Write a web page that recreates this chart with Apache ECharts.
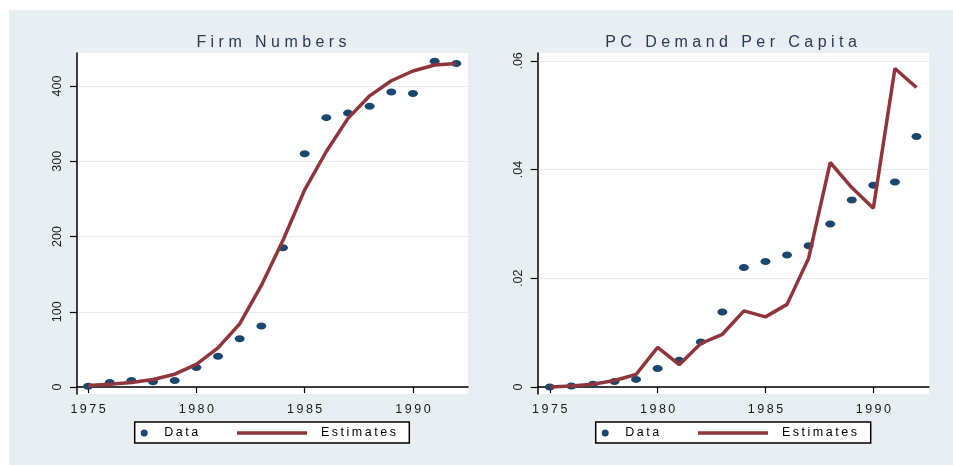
<!DOCTYPE html>
<html>
<head>
<meta charset="utf-8">
<script src="https://cdn.jsdelivr.net/npm/echarts@6/dist/echarts.min.js"></script>
<style>
html,body{margin:0;padding:0;background:#fff;}
#chart{width:953px;height:465px;}
</style>
</head>
<body>
<div id="chart"></div>
<script>
// ---- data ----
const years = [1975,1976,1977,1978,1979,1980,1981,1982,1983,1984,1985,1986,1987,1988,1989,1990,1991,1992];
const firmData = [1, 6, 8.5, 7, 8.5, 26, 41, 64, 81, 185, 310, 358, 364, 373, 392, 390, 433, 430];
const firmEst  = [2, 3.6, 6, 10, 17, 30, 52, 84, 135, 195, 262, 313, 357, 387, 407, 420, 428, 430];
const pcData = [0, 0.0002, 0.0005, 0.001, 0.0014, 0.0034, 0.0049, 0.0083, 0.0138, 0.022, 0.0231, 0.0243, 0.026, 0.030, 0.0344, 0.0371, 0.0377, 0.0461];
const pcEst  = [0, 0.0002, 0.0005, 0.0012, 0.0023, 0.0073, 0.0041, 0.008, 0.0097, 0.014, 0.0129, 0.0152, 0.0237, 0.0413, 0.0367, 0.0329, 0.0586, 0.0551];
const xTicks = [1975, 1980, 1985, 1990];
const firmTicks = [0, 100, 200, 300, 400];
const pcTicks = [0, 0.02, 0.04, 0.06];
const titles = ['Firm Numbers', 'PC Demand Per Capita'];
const seriesNames = ['Data', 'Estimates'];

const NAVY = '#1a476f', MAROON = '#90353b', BG = '#e8eff2', GRIDC = '#e4edef';
const FONT = 'Liberation Sans, Arial, sans-serif';
const pairs = (ys) => years.map((y, i) => [y, ys[i]]);
const spaced = (s, sep) => s.split('').join(sep);
const spacedTitle = (s) => s.split(' ').map(w => w.split('').join(' ')).join('   ');

const chart = echarts.init(document.getElementById('chart'), null, {renderer: 'canvas'});

function xAxis(gi, min, max) {
  return {
    type: 'value', gridIndex: gi, min: min, max: max,
    axisLine: {show: true, lineStyle: {color: '#000', width: 1.5}},
    axisTick: {show: true, length: 6, customValues: xTicks, lineStyle: {color: '#000', width: 1.2}},
    axisLabel: {customValues: xTicks, margin: 9, fontSize: 12.5, fontFamily: FONT, color: '#1a1a1a',
      formatter: v => spaced(String(v), '\u2009')},
    splitLine: {show: false}
  };
}
function yAxis(gi, min, max, ticks, fmt) {
  return {
    type: 'value', gridIndex: gi, min: min, max: max,
    axisLine: {show: true, lineStyle: {color: '#000', width: 1.5}},
    axisTick: {show: true, length: 7, customValues: ticks, lineStyle: {color: '#000', width: 1.2}},
    axisLabel: {customValues: ticks, rotate: 90, margin: 13, fontSize: 12.5, fontFamily: FONT, color: '#1a1a1a', formatter: fmt},
    splitLine: {show: true, customValues: ticks, lineStyle: {color: GRIDC, width: 1}}
  };
}
const pcFmt = v => v === 0 ? '0' : String(+v.toFixed(2)).replace(/^0\./, '.');

function legendPair(boxLeft) {
  return [
    {show: true, data: [{name: 'Data', icon: 'circle'}], left: boxLeft + 6, top: 426, padding: 0,
     itemWidth: 10, itemHeight: 7, symbolKeepAspect: false, selectedMode: false,
     textStyle: {fontSize: 12.5, fontFamily: FONT, color: '#000', lineHeight: 14, padding: [0,0,0,10]},
     formatter: n => spaced(n, '\u2009')},
    {show: true, data: [{name: 'Estimates', icon: 'rect'}], left: boxLeft + 102.3, top: 426, padding: 0,
     itemWidth: 70, itemHeight: 3.5, symbolKeepAspect: false, selectedMode: false,
     textStyle: {fontSize: 12.5, fontFamily: FONT, color: '#000', lineHeight: 14, padding: [0,0,0,9]},
     formatter: n => spaced(n, '\u2009')}
  ];
}

const option = {
  backgroundColor: '#fff',
  animation: false,
  title: [
    {text: spacedTitle(titles[0]), left: 271.5, top: 35, textAlign: 'center', padding: 0,
     textStyle: {fontSize: 16, fontWeight: 'normal', fontFamily: FONT, color: '#2a3957'}},
    {text: spacedTitle(titles[1]), left: 731, top: 35, textAlign: 'center', padding: 0,
     textStyle: {fontSize: 16, fontWeight: 'normal', fontFamily: FONT, color: '#2a3957'}}
  ],
  graphic: [
    {type: 'rect', z: -100, shape: {x: 9, y: 10, width: 944, height: 455}, style: {fill: BG}, silent: true},
    {type: 'rect', z: 1, shape: {x: 134.7, y: 422, width: 274.6, height: 21}, style: {fill: '#fff', stroke: '#000', lineWidth: 1.5}, silent: true},
    {type: 'rect', z: 1, shape: {x: 595.7, y: 422, width: 275, height: 21}, style: {fill: '#fff', stroke: '#000', lineWidth: 1.5}, silent: true}
  ],
  legend: [...legendPair(134.7), ...legendPair(595.7)],
  grid: [
    {left: 77, top: 53, width: 391, height: 341, show: true, backgroundColor: '#fff', borderWidth: 0},
    {left: 537.7, top: 53, width: 391.3, height: 341, show: true, backgroundColor: '#fff', borderWidth: 0}
  ],
  xAxis: [xAxis(0, 1974.49, 1992.54), xAxis(1, 1974.44, 1992.58)],
  yAxis: [yAxis(0, -9.3, 443.9, firmTicks, v => String(v)), yAxis(1, -0.00129, 0.06145, pcTicks, pcFmt)],
  series: [
    {name: seriesNames[0], type: 'scatter', xAxisIndex: 0, yAxisIndex: 0, data: pairs(firmData),
     symbol: 'circle', symbolSize: [10, 7], color: NAVY, itemStyle: {color: NAVY, opacity: 1}},
    {name: seriesNames[1], type: 'line', xAxisIndex: 0, yAxisIndex: 0, data: pairs(firmEst),
     showSymbol: false, color: MAROON, lineStyle: {color: MAROON, width: 3.5}, itemStyle: {color: MAROON}},
    {name: seriesNames[0], type: 'scatter', xAxisIndex: 1, yAxisIndex: 1, data: pairs(pcData),
     symbol: 'circle', symbolSize: [10, 7], color: NAVY, itemStyle: {color: NAVY, opacity: 1}},
    {name: seriesNames[1], type: 'line', xAxisIndex: 1, yAxisIndex: 1, data: pairs(pcEst),
     showSymbol: false, color: MAROON, lineStyle: {color: MAROON, width: 3.5}, itemStyle: {color: MAROON}}
  ]
};
chart.setOption(option);
</script>
</body>
</html>
